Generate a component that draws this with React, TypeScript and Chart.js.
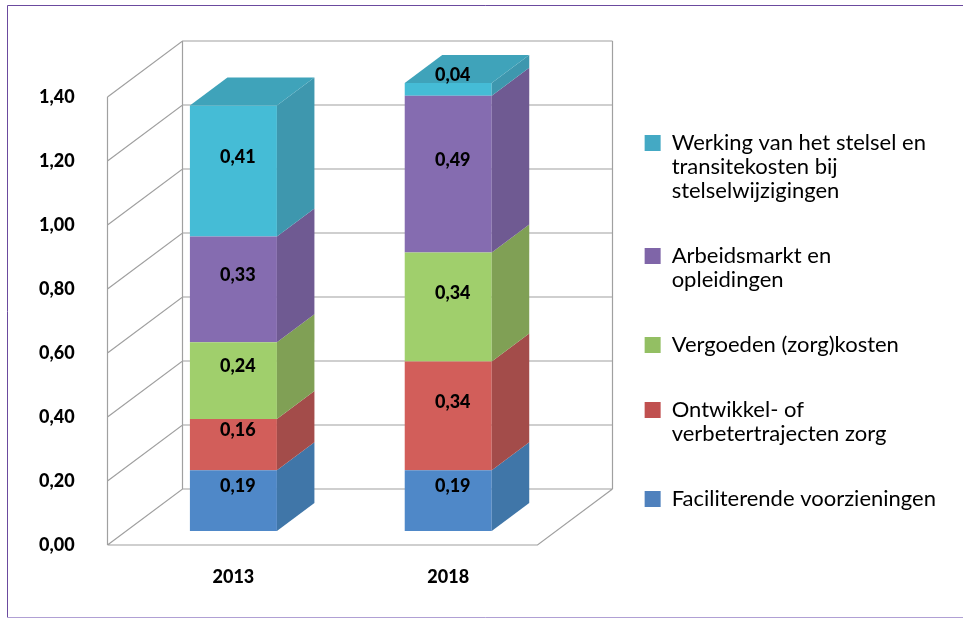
import React, { useEffect, useRef } from "react";
import { Chart, registerables } from "chart.js";

Chart.register(...registerables);

const categories = ["2013", "2018"];
const faciliterend = [0.19, 0.19];
const ontwikkel = [0.16, 0.34];
const vergoeden = [0.24, 0.34];
const arbeidsmarkt = [0.33, 0.49];
const werking = [0.41, 0.04];

const labelFaciliterend = ["Faciliterende voorzieningen"];
const labelOntwikkel = ["Ontwikkel- of", "verbetertrajecten zorg"];
const labelVergoeden = ["Vergoeden (zorg)kosten"];
const labelArbeidsmarkt = ["Arbeidsmarkt en", "opleidingen"];
const labelWerking = ["Werking van het stelsel en", "transitekosten bij", "stelselwijzigingen"];

const frontColors = ["#4f88c8", "#d25e5a", "#a0cf6c", "#856cb0", "#45bcd6"];
const sideColors = ["#4076a8", "#a34c4a", "#80a055", "#6f5a92", "#3e97ae"];
const legendColors = ["#4f81bd", "#c0504f", "#93bf63", "#7f65a8", "#44a9c4"];
const topColor = "#3fa3ba";

const WALL_DX = 75;
const WALL_DY = -56;
const AXIS_SHIFT = -19;
const BAR_DY = -14;
const BAR_DEPTH_X = 37.5;
const BAR_DEPTH_Y = -28;

const threeD = {
  id: "threeD",
  beforeDraw(chart: any) {
    const { ctx, width } = chart;
    ctx.save();
    ctx.fillStyle = "#ffffff";
    ctx.fillRect(0, 0, width, chart.height);
    ctx.lineWidth = 1;
    ctx.strokeStyle = "#6b4a9e";
    ctx.beginPath();
    ctx.moveTo(width, 5.5);
    ctx.lineTo(7.5, 5.5);
    ctx.lineTo(7.5, 617.5);
    ctx.stroke();
    ctx.strokeStyle = "#b0a0d4";
    ctx.beginPath();
    ctx.moveTo(7.5, 617.5);
    ctx.lineTo(width, 617.5);
    ctx.stroke();
    ctx.restore();
  },
  beforeDatasetsDraw(chart: any) {
    const { ctx, chartArea, scales } = chart;
    const y = scales.y;
    const l = Math.round(chartArea.left + AXIS_SHIFT) + 0.5;
    const r = Math.round(chartArea.right + AXIS_SHIFT) + 0.5;
    const y0 = y.getPixelForValue(0);
    const yTop = y.getPixelForValue(1.4);
    ctx.save();
    ctx.strokeStyle = "#a0a0a0";
    ctx.lineWidth = 1.2;
    ctx.beginPath();
    for (const t of y.ticks) {
      const py = y.getPixelForValue(t.value);
      ctx.moveTo(l, py);
      ctx.lineTo(l + WALL_DX, py + WALL_DY);
      ctx.lineTo(r + WALL_DX, py + WALL_DY);
    }
    ctx.moveTo(l, y0);
    ctx.lineTo(l, yTop);
    ctx.moveTo(l + WALL_DX, y0 + WALL_DY);
    ctx.lineTo(l + WALL_DX, yTop + WALL_DY);
    ctx.moveTo(r + WALL_DX, y0 + WALL_DY);
    ctx.lineTo(r + WALL_DX, yTop + WALL_DY);
    ctx.moveTo(l, y0);
    ctx.lineTo(r, y0);
    ctx.lineTo(r + WALL_DX, y0 + WALL_DY);
    ctx.stroke();
    ctx.restore();
    ctx.save();
    ctx.translate(0, BAR_DY);
  },
  afterDatasetsDraw(chart: any) {
    const { ctx } = chart;
    const count = chart.data.datasets.length;
    const dx = BAR_DEPTH_X;
    const dy = BAR_DEPTH_Y;
    for (let i = 0; i < count; i++) {
      chart.getDatasetMeta(i).data.forEach((bar: any) => {
        const right = bar.x + bar.width / 2;
        ctx.fillStyle = sideColors[i];
        ctx.beginPath();
        ctx.moveTo(right, bar.base);
        ctx.lineTo(right + dx, bar.base + dy);
        ctx.lineTo(right + dx, bar.y + dy);
        ctx.lineTo(right, bar.y);
        ctx.closePath();
        ctx.fill();
        if (i === count - 1) {
          const left = bar.x - bar.width / 2;
          ctx.fillStyle = topColor;
          ctx.beginPath();
          ctx.moveTo(left, bar.y);
          ctx.lineTo(left + dx, bar.y + dy);
          ctx.lineTo(right + dx, bar.y + dy);
          ctx.lineTo(right, bar.y);
          ctx.closePath();
          ctx.fill();
        }
      });
    }
    ctx.fillStyle = "#000000";
    ctx.font = "900 18px Lato";
    ctx.textAlign = "center";
    ctx.textBaseline = "middle";
    for (let i = 0; i < count; i++) {
      const values = chart.data.datasets[i].data;
      chart.getDatasetMeta(i).data.forEach((bar: any, j: number) => {
        const text = values[j].toFixed(2).replace(".", ",");
        ctx.fillText(text, bar.x + 4.5, (bar.y + bar.base) / 2 - 14);
      });
    }
    ctx.restore();
  },
};

export default function App() {
  const ref = useRef<HTMLCanvasElement | null>(null);
  useEffect(() => {
    const series = [
      [labelFaciliterend, faciliterend],
      [labelOntwikkel, ontwikkel],
      [labelVergoeden, vergoeden],
      [labelArbeidsmarkt, arbeidsmarkt],
      [labelWerking, werking],
    ] as any[];
    const chart = new Chart(ref.current as HTMLCanvasElement, {
      type: "bar",
      data: {
        labels: categories,
        datasets: series.map(([label, data], i) => ({
          label,
          data,
          backgroundColor: frontColors[i],
          borderWidth: 0,
          barPercentage: 0.405,
          categoryPercentage: 1,
          clip: false,
        })),
      } as any,
      plugins: [threeD],
      options: {
        animation: false,
        responsive: false,
        layout: { padding: { left: 39, top: 91, right: 17, bottom: 0 } },
        scales: {
          x: {
            stacked: true,
            grid: { display: false },
            border: { display: false },
            afterFit: (s: any) => { s.height = 73; },
            ticks: {
              padding: 13,
              color: "#000000",
              font: { family: "Lato", weight: 900, size: 18 },
            },
          },
          y: {
            stacked: true,
            min: 0,
            max: 1.41875,
            grid: { display: false },
            border: { display: false },
            afterFit: (s: any) => { s.width = 87; },
            ticks: {
              stepSize: 0.2,
              includeBounds: false,
              crossAlign: "far",
              color: "#000000",
              font: { family: "Lato", weight: 900, size: 18 },
              callback: (v: any) => Number(v).toFixed(2).replace(".", ","),
            },
          },
          legendGap: {
            position: "right",
            grid: { display: false },
            border: { display: false },
            ticks: { display: false },
            afterFit: (s: any) => { s.width = 48; },
          },
        },
        plugins: {
          tooltip: { enabled: false },
          title: { display: false },
          legend: {
            position: "right",
            align: "start",
            reverse: true,
            maxWidth: 360,
            labels: {
              boxWidth: 16,
              boxHeight: 16,
              padding: 41,
              color: "#111111",
              font: { family: "Lato", size: 22, lineHeight: 1.091 },
              generateLabels: (c: any) =>
                c.data.datasets.map((d: any, i: number) => ({
                  text: d.label,
                  fillStyle: legendColors[i],
                  strokeStyle: legendColors[i],
                  lineWidth: 0,
                  datasetIndex: i,
                })),
            },
          },
        },
      } as any,
    });
    return () => chart.destroy();
  }, []);
  return (
    <canvas
      ref={ref}
      width={963}
      height={618}
      style={{ position: "fixed", left: 0, top: 0, width: 963, height: 618 }}
    />
  );
}
